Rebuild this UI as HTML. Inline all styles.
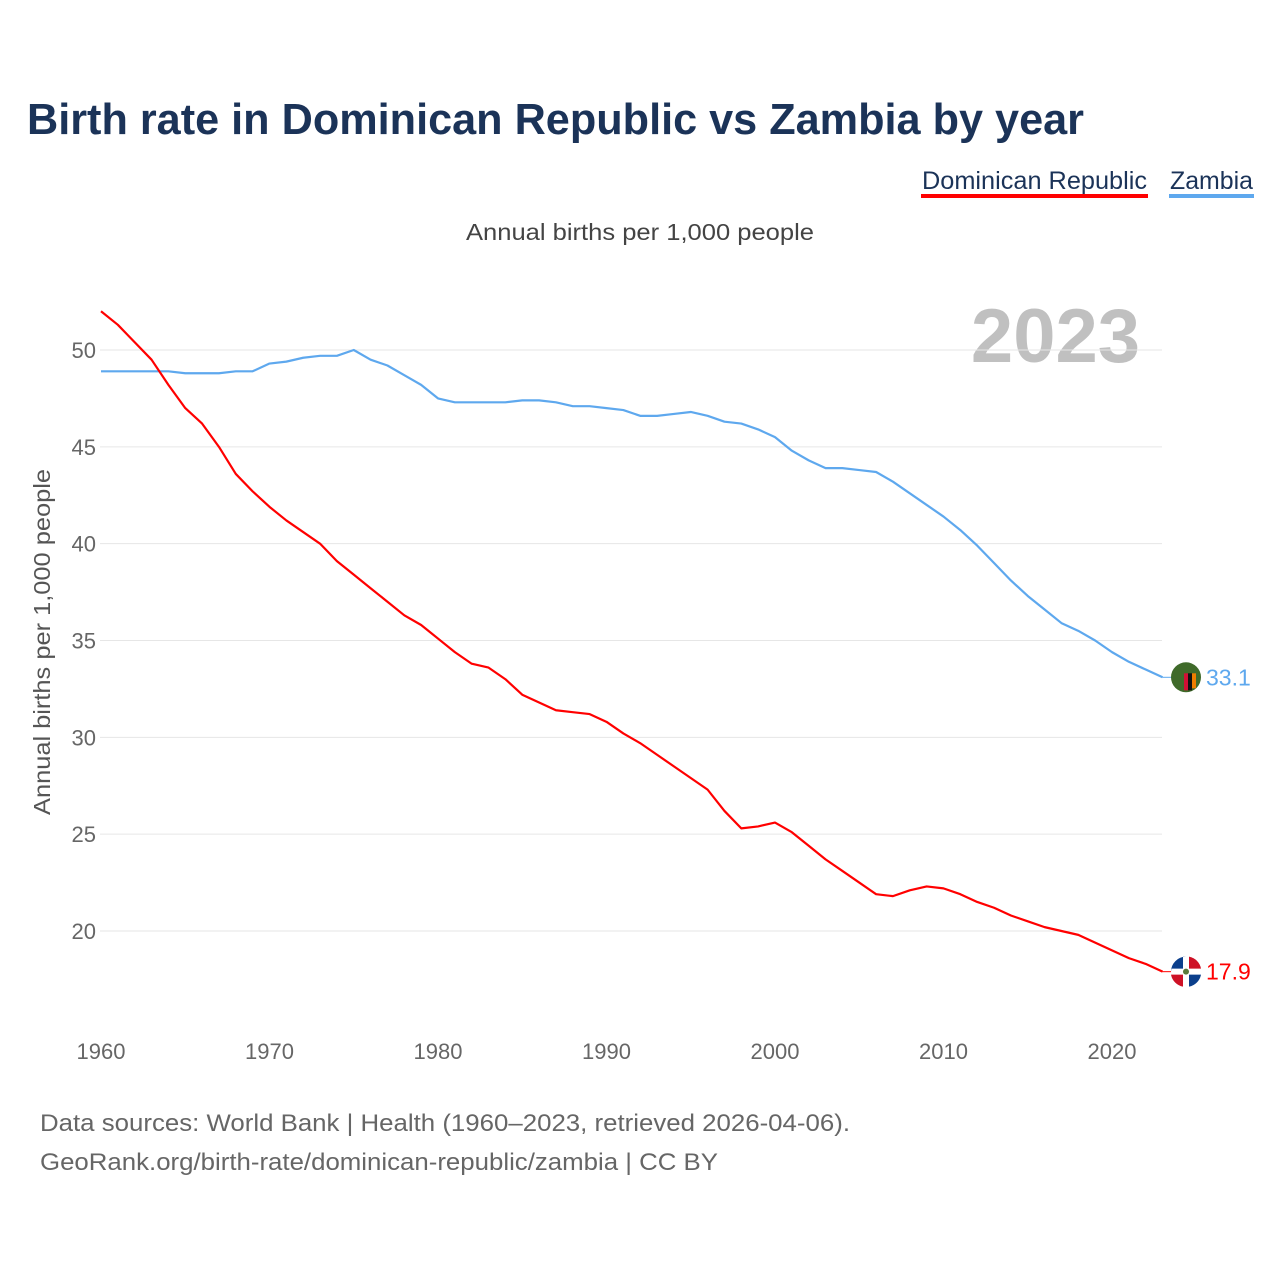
<!DOCTYPE html>
<html><head><meta charset="utf-8"><style>
body{margin:0;background:#fff;width:1280px;height:1280px;overflow:hidden;font-family:"Liberation Sans",sans-serif}
svg text{font-family:"Liberation Sans",sans-serif}
</style></head><body>
<svg id="c" width="1280" height="1280" viewBox="0 0 1280 1280">
<text x="27" y="134" font-size="44" font-weight="bold" fill="#1b3358" textLength="1057" lengthAdjust="spacingAndGlyphs">Birth rate in Dominican Republic vs Zambia by year</text>
<g><text x="922" y="189" font-size="25" fill="#1b3358" textLength="225" lengthAdjust="spacingAndGlyphs">Dominican Republic</text><rect x="921" y="194" width="227" height="4" fill="#ff0000"/></g>
<g><text x="1170" y="189" font-size="25" fill="#1b3358" textLength="83" lengthAdjust="spacingAndGlyphs">Zambia</text><rect x="1169" y="194" width="85" height="4" fill="#5ea8ee"/></g>
<text x="466" y="240" font-size="23" fill="#444" textLength="348" lengthAdjust="spacingAndGlyphs">Annual births per 1,000 people</text>
<text x="1140" y="362" text-anchor="end" font-size="76" font-weight="bold" fill="#c0c0c0">2023</text>
<text transform="translate(50,815) rotate(-90)" font-size="23" fill="#555" textLength="346" lengthAdjust="spacingAndGlyphs">Annual births per 1,000 people</text>
<g id="grid"></g><g id="lines"></g><g id="ends"></g>
<text x="40" y="1131" font-size="24" fill="#666" textLength="810" lengthAdjust="spacingAndGlyphs">Data sources: World Bank | Health (1960–2023, retrieved 2026-04-06).</text>
<text x="40" y="1170" font-size="24" fill="#666" textLength="678" lengthAdjust="spacingAndGlyphs">GeoRank.org/birth-rate/dominican-republic/zambia | CC BY</text>
</svg>
<script>
const years=[];for(let y=1960;y<=2023;y++)years.push(y);
const yTicks=[20,25,30,35,40,45,50];
const xTicks=[1960,1970,1980,1990,2000,2010,2020];
const domRep=[52.0,51.3,50.4,49.5,48.2,47.0,46.2,45.0,43.6,42.7,41.9,41.2,40.6,40.0,39.1,38.4,37.7,37.0,36.3,35.8,35.1,34.4,33.8,33.6,33.0,32.2,31.8,31.4,31.3,31.2,30.8,30.2,29.7,29.1,28.5,27.9,27.3,26.2,25.3,25.4,25.6,25.1,24.4,23.7,23.1,22.5,21.9,21.8,22.1,22.3,22.2,21.9,21.5,21.2,20.8,20.5,20.2,20.0,19.8,19.4,19.0,18.6,18.3,17.9];
const zambia=[48.9,48.9,48.9,48.9,48.9,48.8,48.8,48.8,48.9,48.9,49.3,49.4,49.6,49.7,49.7,50.0,49.5,49.2,48.7,48.2,47.5,47.3,47.3,47.3,47.3,47.4,47.4,47.3,47.1,47.1,47.0,46.9,46.6,46.6,46.7,46.8,46.6,46.3,46.2,45.9,45.5,44.8,44.3,43.9,43.9,43.8,43.7,43.2,42.6,42.0,41.4,40.7,39.9,39.0,38.1,37.3,36.6,35.9,35.5,35.0,34.4,33.9,33.5,33.1];
const X=y=>101+(y-1960)*(1011/60);
const Y=v=>350+(50-v)*(581/30);
const NS="http://www.w3.org/2000/svg";
function mk(t,a,p){const e=document.createElementNS(NS,t);for(const k in a)e.setAttribute(k,a[k]);p.appendChild(e);return e;}
const grid=document.getElementById('grid');
yTicks.forEach(v=>{
 const l=mk('line',{x1:100,x2:1162,y1:Y(v),y2:Y(v),stroke:'#e6e6e6','stroke-width':1},grid);
 
 
 const t=mk('text',{x:96,y:Y(v)+8,'text-anchor':'end','font-size':22,fill:'#666'},grid);t.textContent=v;
 
 
});
xTicks.forEach(v=>{
 const t=mk('text',{x:X(v),y:1059,'text-anchor':'middle','font-size':22,fill:'#666'},grid);t.textContent=v;
 
 
});
const lines=document.getElementById('lines');
function series(data,color,name){
 const p=mk('polyline',{points:data.map((v,i)=>X(years[i])+','+Y(v)).join(' '),fill:'none',stroke:color,'stroke-width':2.2,'stroke-linejoin':'round'},lines);
 
 
}
series(zambia,'#5ea8ee','zambia');
series(domRep,'#ff0000','dominican-republic');
const ends=document.getElementById('ends');
function endLabel(data,color,name,flag){
 const v=data[data.length-1],y=Y(v),cx=1186;
 mk('line',{x1:X(2023),x2:cx-14,y1:y,y2:y,stroke:color,'stroke-width':1},ends);
 const g=mk('g',{},ends);
 
 
 if(flag==='zm'){
  mk('circle',{cx:cx,cy:y,r:15,fill:'#3f6a2a'},g);
  mk('rect',{x:cx-2,y:y-4,width:4,height:17,fill:'#d21034'},g);
  mk('rect',{x:cx+2,y:y-4,width:4,height:17,fill:'#111'},g);
  mk('rect',{x:cx+6,y:y-4,width:4,height:15,fill:'#ef7d00'},g);
 }else{
  mk('circle',{cx:cx,cy:y,r:15,fill:'#fff'},g);
  mk('path',{d:`M${cx-15},${y} A15,15 0 0 1 ${cx},${y-15} L${cx-3},${y-15} L${cx-3},${y-3} L${cx-15},${y-3}Z`,fill:'#0b3f8c'},g);
  mk('path',{d:`M${cx+3},${y-15} A15,15 0 0 1 ${cx+15},${y-3} L${cx+3},${y-3}Z`,fill:'#ce1126'},g);
  mk('path',{d:`M${cx-15},${y+3} L${cx-3},${y+3} L${cx-3},${y+15} A15,15 0 0 1 ${cx-15},${y+3}Z`,fill:'#ce1126'},g);
  mk('path',{d:`M${cx+3},${y+3} L${cx+15},${y+3} A15,15 0 0 1 ${cx+3},${y+15}Z`,fill:'#0b3f8c'},g);
  mk('circle',{cx:cx,cy:y,r:3,fill:'#5a7a3a'},g);
 }
 const t=mk('text',{x:1206,y:y+8,'font-size':23,fill:color},ends);t.textContent=v.toFixed(1);
 
 
}
endLabel(zambia,'#5ea8ee','zambia','zm');
endLabel(domRep,'#ff0000','dominican-republic','do');
</script>
</body></html>
